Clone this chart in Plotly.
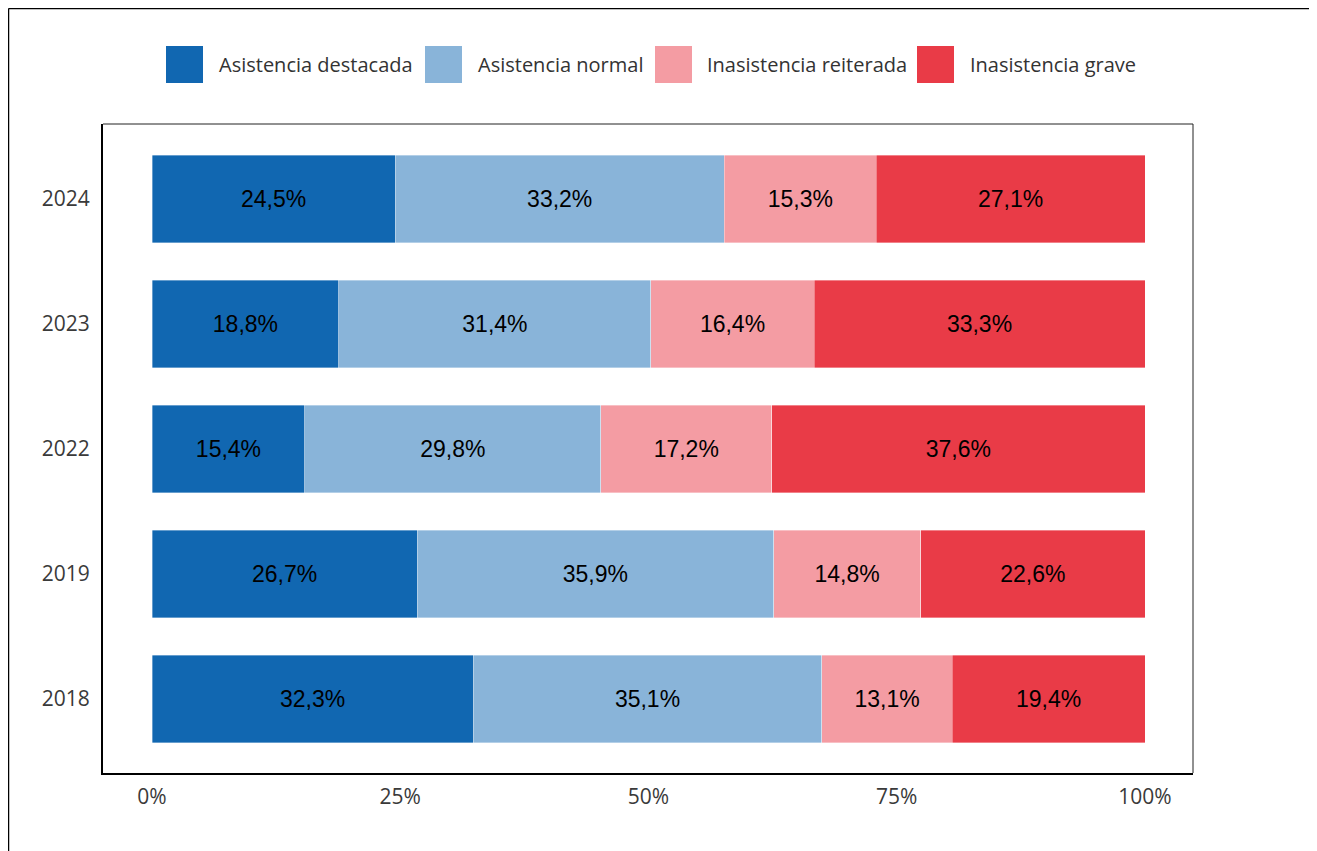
import plotly.graph_objects as go

years = ["2018", "2019", "2022", "2023", "2024"]
categories = ["Asistencia destacada", "Asistencia normal", "Inasistencia reiterada", "Inasistencia grave"]
destacada = [32.3, 26.7, 15.4, 18.8, 24.5]
normal = [35.1, 35.9, 29.8, 31.4, 33.2]
reiterada = [13.1, 14.8, 17.2, 16.4, 15.3]
grave = [19.4, 22.6, 37.6, 33.3, 27.1]
series = [destacada, normal, reiterada, grave]
colors = ["#1167b1", "#89b4d9", "#f49ca3", "#e93b47"]
x_ticks = [0, 25, 50, 75, 100]
x_tick_labels = ["0%", "25%", "50%", "75%", "100%"]

OFF = 8  # page body margin
W, H = 1317 - OFF, 851 - OFF
L, R, T, B = 103 - OFF, 124, 124 - OFF, 78
PW, PH = W - L - R, H - T - B


def px(x):
    return (x - OFF - L) / PW


def py(y):
    return 1 - (y - OFF - T) / PH


def fmt(v):
    return f"{v:.1f}".replace(".", ",") + "%"


fig = go.Figure()
for name, vals, col in zip(categories, series, colors):
    fig.add_trace(go.Bar(
        y=years, x=vals, name=name, orientation="h",
        marker=dict(color=col, line=dict(color="rgba(255,255,255,0.6)", width=0.6)),
        text=[fmt(v) for v in vals], textposition="inside",
        insidetextanchor="middle", textangle=0,
        textfont=dict(family="Liberation Sans, Arial", size=23, color="#000000"),
        showlegend=False, hoverinfo="skip",
    ))

shapes = []
# outer frame (left and top)
shapes.append(dict(type="line", xref="paper", yref="paper", x0=px(8.5), x1=px(8.5), y0=py(8.6), y1=py(870),
                   line=dict(color="#000000", width=1.5)))
shapes.append(dict(type="line", xref="paper", yref="paper", x0=px(8.5), x1=px(1340), y0=py(8.6), y1=py(8.6),
                   line=dict(color="#000000", width=1.5)))
# plot box top / right thin
shapes.append(dict(type="line", xref="paper", yref="paper", x0=0, x1=1, y0=1, y1=1,
                   line=dict(color="#222222", width=1)))
shapes.append(dict(type="line", xref="paper", yref="paper", x0=1, x1=1, y0=0, y1=1,
                   line=dict(color="#222222", width=1)))

annotations = []
leg_sq = [166, 425, 655, 917]
leg_tx = [218, 477, 706, 969]
for name, col, sx, tx in zip(categories, colors, leg_sq, leg_tx):
    shapes.append(dict(type="rect", xref="paper", yref="paper", x0=px(sx), x1=px(sx + 37),
                       y0=py(83), y1=py(46), fillcolor=col, line=dict(width=0)))
    annotations.append(dict(text=name, xref="paper", yref="paper", x=px(tx - 1), y=py(64.5),
                            xanchor="left", yanchor="middle", showarrow=False,
                            font=dict(family="Open Sans", size=20, color="#333333")))

x0 = (103 - 152) / 9.93
x1 = (1193 - 152) / 9.93
y0 = (699 - 773) / 125
y1 = (699 - 124) / 125

fig.update_layout(
    width=W, height=H, barmode="stack", barnorm="percent", bargap=0.3,
    plot_bgcolor="white", paper_bgcolor="white",
    margin=dict(l=L, r=R, t=T, b=B, pad=0),
    shapes=shapes, annotations=annotations,
    xaxis=dict(range=[x0, x1], tickvals=x_ticks, ticktext=x_tick_labels, showgrid=False,
               zeroline=False, showline=True, linecolor="#000000", linewidth=2, ticks="",
               ticklabelstandoff=4,
               tickfont=dict(family="Open Sans", size=21, color="#3a3a3a")),
    yaxis=dict(range=[y0, y1], showgrid=False, zeroline=False, showline=True,
               linecolor="#000000", linewidth=2, ticks="", type="category",
               ticklabelstandoff=7,
               tickfont=dict(family="Open Sans", size=21, color="#3a3a3a")),
)

fig.write_html("out.html")
